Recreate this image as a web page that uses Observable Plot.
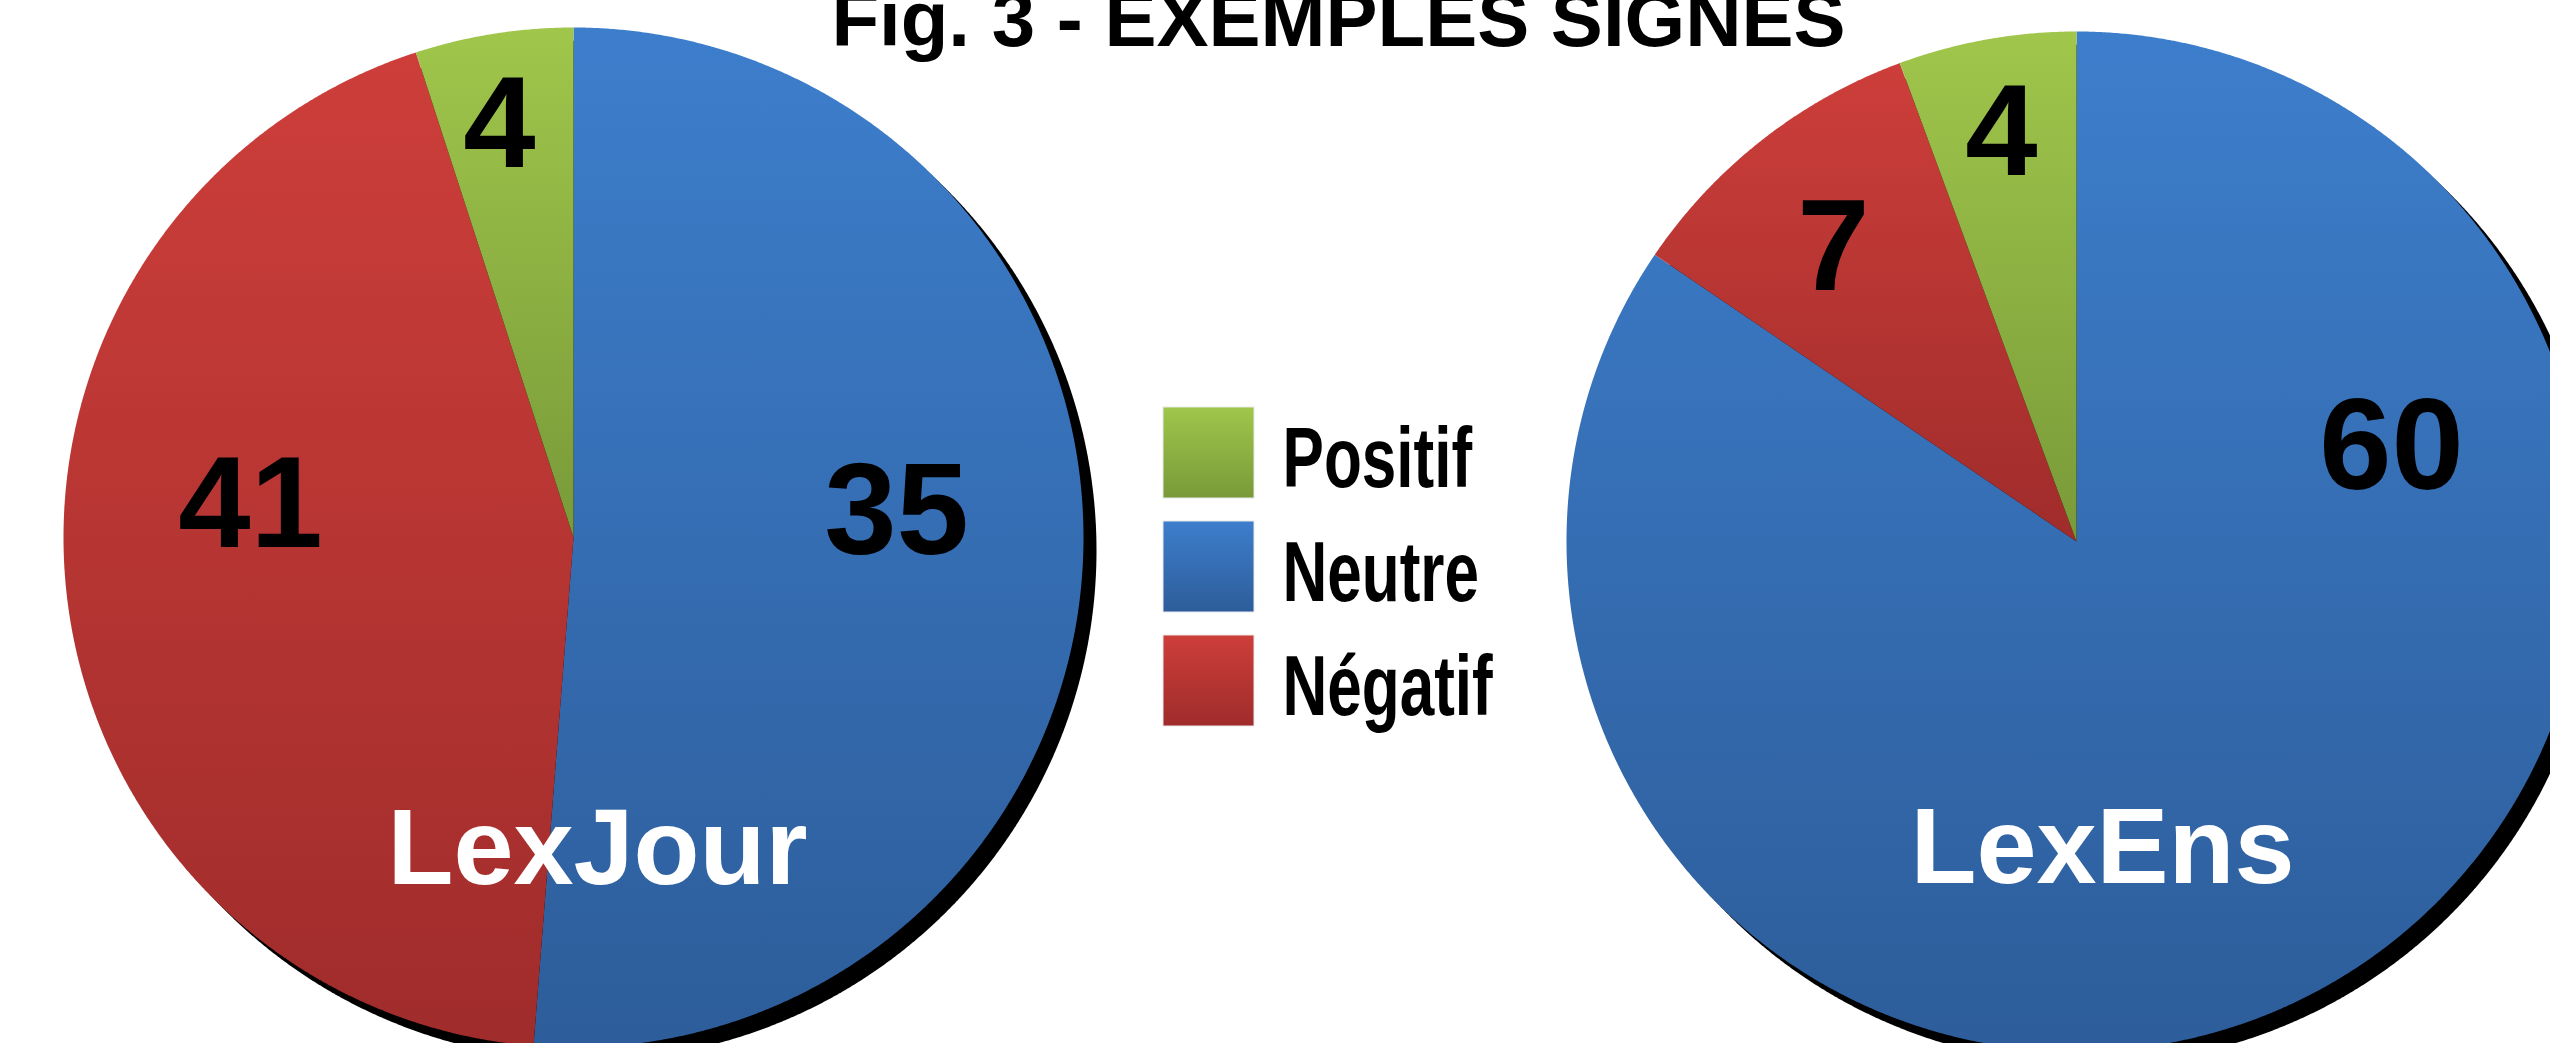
<!DOCTYPE html>
<html>
<head>
<meta charset="utf-8">
<script src="https://cdn.jsdelivr.net/npm/d3@7"></script>
<script src="https://cdn.jsdelivr.net/npm/@observablehq/plot@0.6"></script>
<style>
  html, body { margin: 0; padding: 0; background: #fff; overflow: hidden; }
  #chart svg { display: block; }
</style>
</head>
<body>
<div id="chart"></div>
<script>
// ---------------- DATA ----------------
const title = "Fig. 3 - EXEMPLES SIGNES";
const categories = ["Positif", "Neutre", "Négatif"];
const pieNames = ["LexJour", "LexEns"];
// slice sizes as drawn in the picture (order: Positif, Neutre, Négatif)
const lexJourValues = [4, 41, 35];
// numbers printed on the slices (order: Positif, Neutre, Négatif)
const lexJourLabels = ["4", "35", "41"];
const lexEnsValues = [4, 60, 7];
const lexEnsLabels = ["4", "60", "7"];
// drawing order, clockwise from 12 o'clock
const sliceOrder = ["Neutre", "Négatif", "Positif"];

// ---------------- LAYOUT / STYLE ----------------
const W = 2550, H = 1043;
const FONT = "'Liberation Sans', Arial, Helvetica, sans-serif";
const layout = {
  r: 510,
  shadow: 13,
  centers: { LexJour: [573, 537], LexEns: [2076, 541] },
  labelOffsets: {
    LexJour: { "Positif": [-74, -412], "Neutre": [323, -25], "Négatif": [-323, -32] },
    LexEns: { "Positif": [-75, -408], "Neutre": [315, -94], "Négatif": [-243, -293] }
  },
  nameOffsets: { LexJour: [24, 312], LexEns: [26, 307] },
  legend: { x: 1163, y0: 407, size: 91, step: 114, textX: 1282, textDy: 7, condense: 0.73 },
  titlePos: [1338, 21]
};
const gradients = {
  "Positif": { id: "gPos", top: "#a0c64b", bottom: "#799a39" },
  "Neutre": { id: "gNeu", top: "#3d7ecc", bottom: "#2d5d9a" },
  "Négatif": { id: "gNeg", top: "#cd3e3a", bottom: "#9f2c2b" }
};

// ---------------- BUILD ----------------
const pies = [
  { name: "LexJour", values: lexJourValues, labels: lexJourLabels },
  { name: "LexEns", values: lexEnsValues, labels: lexEnsLabels }
];

const slicePts = [];
const shadowPts = [];
const labelRows = [];
const nameRows = [];
const STEP = Math.PI / 720;

for (const p of pies) {
  const [cx, cy] = layout.centers[p.name];
  const r = layout.r;
  const rows = sliceOrder.map(c => ({ cat: c, value: p.values[categories.indexOf(c)] }));
  const arcs = d3.pie().sort(null).value(d => d.value).startAngle(0).endAngle(2 * Math.PI)(rows);
  for (const a of arcs) {
    const id = p.name + "-" + a.data.cat;
    slicePts.push({ id, cat: a.data.cat, x: cx, y: cy });
    const n = Math.max(2, Math.ceil((a.endAngle - a.startAngle) / STEP));
    for (let i = 0; i <= n; i++) {
      const t = a.startAngle + (a.endAngle - a.startAngle) * i / n;
      slicePts.push({ id, cat: a.data.cat, x: cx + r * Math.sin(t), y: cy - r * Math.cos(t) });
    }
  }
  for (let i = 0; i <= 1440; i++) {
    const t = 2 * Math.PI * i / 1440;
    shadowPts.push({ pie: p.name, x: cx + r * Math.sin(t), y: cy - r * Math.cos(t) });
  }
  categories.forEach((c, i) => {
    const [ox, oy] = layout.labelOffsets[p.name][c];
    labelRows.push({ text: p.labels[i], x: cx + ox, y: cy + oy });
  });
  const [nx, ny] = layout.nameOffsets[p.name];
  nameRows.push({ text: p.name, x: cx + nx, y: cy + ny });
}

const L = layout.legend;
const legendRows = categories.map((c, i) => ({
  cat: c,
  x1: L.x, x2: L.x + L.size,
  y1: L.y0 + i * L.step, y2: L.y0 + i * L.step + L.size,
  tx: L.textX, ty: L.y0 + i * L.step + L.size / 2 + L.textDy
}));

const svg = Plot.plot({
  width: W,
  height: H,
  margin: 0,
  x: { domain: [0, W], range: [0, W], axis: null },
  y: { domain: [0, H], range: [0, H], axis: null },
  color: { type: "ordinal", domain: categories, range: categories.map(c => `url(#${gradients[c].id})`) },
  style: { background: "#fff", overflow: "hidden" },
  marks: [
    Plot.line(shadowPts, { x: "x", y: "y", z: "pie", fill: "black", stroke: "none", dx: layout.shadow, dy: layout.shadow }),
    Plot.line(slicePts, { x: "x", y: "y", z: "id", fill: "cat", stroke: "none" }),
    Plot.text(labelRows, { x: "x", y: "y", text: "text", fill: "black", fontSize: 130, fontWeight: "bold", fontFamily: FONT, textAnchor: "middle" }),
    Plot.text(nameRows, { x: "x", y: "y", text: "text", fill: "white", fontSize: 108, fontWeight: "bold", fontFamily: FONT, textAnchor: "middle" }),
    Plot.rect(legendRows, { x1: "x1", x2: "x2", y1: "y1", y2: "y2", fill: "cat", stroke: "#e8e8e8", strokeWidth: 1 }),
    Plot.text(legendRows, { x: "tx", y: "ty", text: "cat", fill: "black", fontSize: 85, fontWeight: "bold", fontFamily: FONT, textAnchor: "start" }),
    Plot.text([title], { x: () => layout.titlePos[0], y: () => layout.titlePos[1], text: d => d, fill: "black", fontSize: 78, fontWeight: "bold", fontFamily: FONT, textAnchor: "middle" })
  ]
});

// gradient definitions (per-slice vertical gradients)
const defs = d3.select(svg).insert("defs", ":first-child");
for (const c of categories) {
  const g = gradients[c];
  const lg = defs.append("linearGradient").attr("id", g.id)
    .attr("x1", 0).attr("y1", 0).attr("x2", 0).attr("y2", 1);
  lg.append("stop").attr("offset", "0%").attr("stop-color", g.top);
  lg.append("stop").attr("offset", "100%").attr("stop-color", g.bottom);
}

document.getElementById("chart").appendChild(svg);

// condensed legend text
d3.select(svg).selectAll("text").each(function () {
  if (categories.includes(this.textContent)) {
    const tr = this.getAttribute("transform") || "";
    this.setAttribute("transform", tr + ` scale(${L.condense},1)`);
  }
});
</script>
</body>
</html>
